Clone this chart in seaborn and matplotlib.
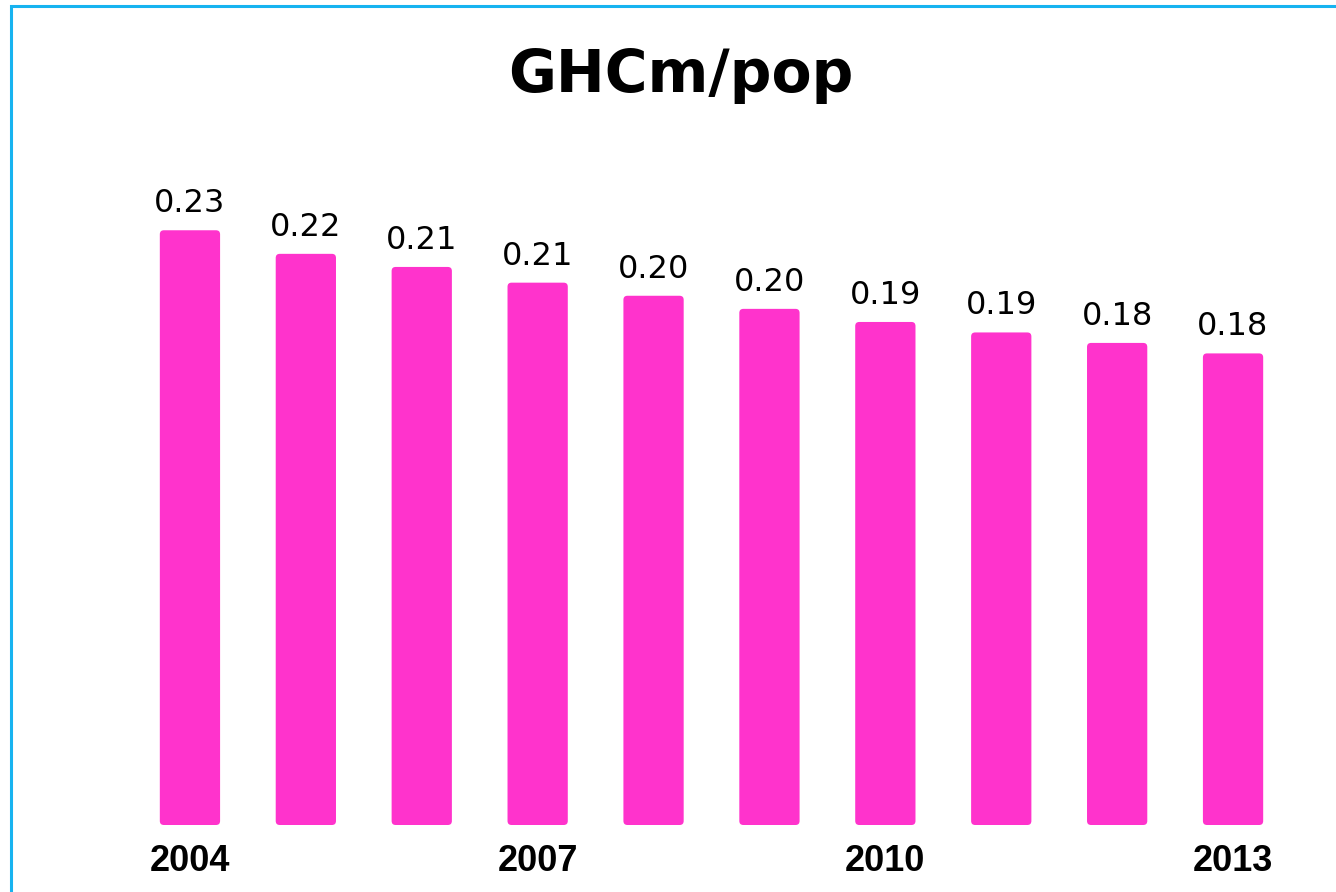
import matplotlib
matplotlib.use('Agg')
import matplotlib.pyplot as plt
from matplotlib.patches import FancyBboxPatch, Rectangle
import seaborn as sns

years = ['2004', '2005', '2006', '2007', '2008', '2009', '2010', '2011', '2012', '2013']
ghcm_pop = [0.227, 0.218, 0.213, 0.207, 0.202, 0.197, 0.192, 0.188, 0.184, 0.180]
shown_ticks = ['2004', '2007', '2010', '2013']

sns.set_style('white')
plt.rcParams['font.family'] = ['DejaVu Sans']
plt.rcParams['text.color'] = 'black'
plt.rcParams['xtick.color'] = 'black'

fig = plt.figure(figsize=(13.36, 8.92), dpi=100)
ax = fig.add_axes([132 / 1336, 67 / 892, 1159 / 1336, 655 / 892])

sns.barplot(x=years, y=ghcm_pop, color='#FF33CC', saturation=1, width=0.52, ax=ax)

# swap the plain rectangles for slightly rounded ones
bars = list(ax.patches)
for p in bars:
    rb = FancyBboxPatch((p.get_x(), p.get_y()), p.get_width(), p.get_height(),
                        boxstyle='round,pad=0,rounding_size=0.035',
                        mutation_aspect=0.044, facecolor=p.get_facecolor(),
                        edgecolor='none')
    p.set_visible(False)
    ax.add_patch(rb)

ax.bar_label(ax.containers[0], labels=[f'{v:.2f}' for v in ghcm_pop],
             padding=8, fontsize=23, color='black')

ax.set_xlim(-0.5, 9.5)
ax.set_ylim(0, 0.25)
ax.set_xticks([years.index(y) for y in shown_ticks])
ax.set_xticklabels(shown_ticks, fontsize=26, fontweight='bold',
                   family='Liberation Sans', color='black')
ax.tick_params(axis='x', length=0, pad=14)
ax.set_yticks([])
ax.set_xlabel('')
for s in ax.spines.values():
    s.set_visible(False)

fig.text(681 / 1336, 1 - 75 / 892, 'GHCm/pop', ha='center', va='center',
         fontsize=42, fontweight='bold', color='black')

# light blue frame (only left and top edges visible in the original)
fig.patches.append(Rectangle((11 / 1336, -0.1), 1.2, 1.1 - 6 / 892,
                             transform=fig.transFigure, fill=False,
                             edgecolor='#17B3F0', linewidth=2.2, zorder=10))

fig.savefig('out.png', dpi=100)
